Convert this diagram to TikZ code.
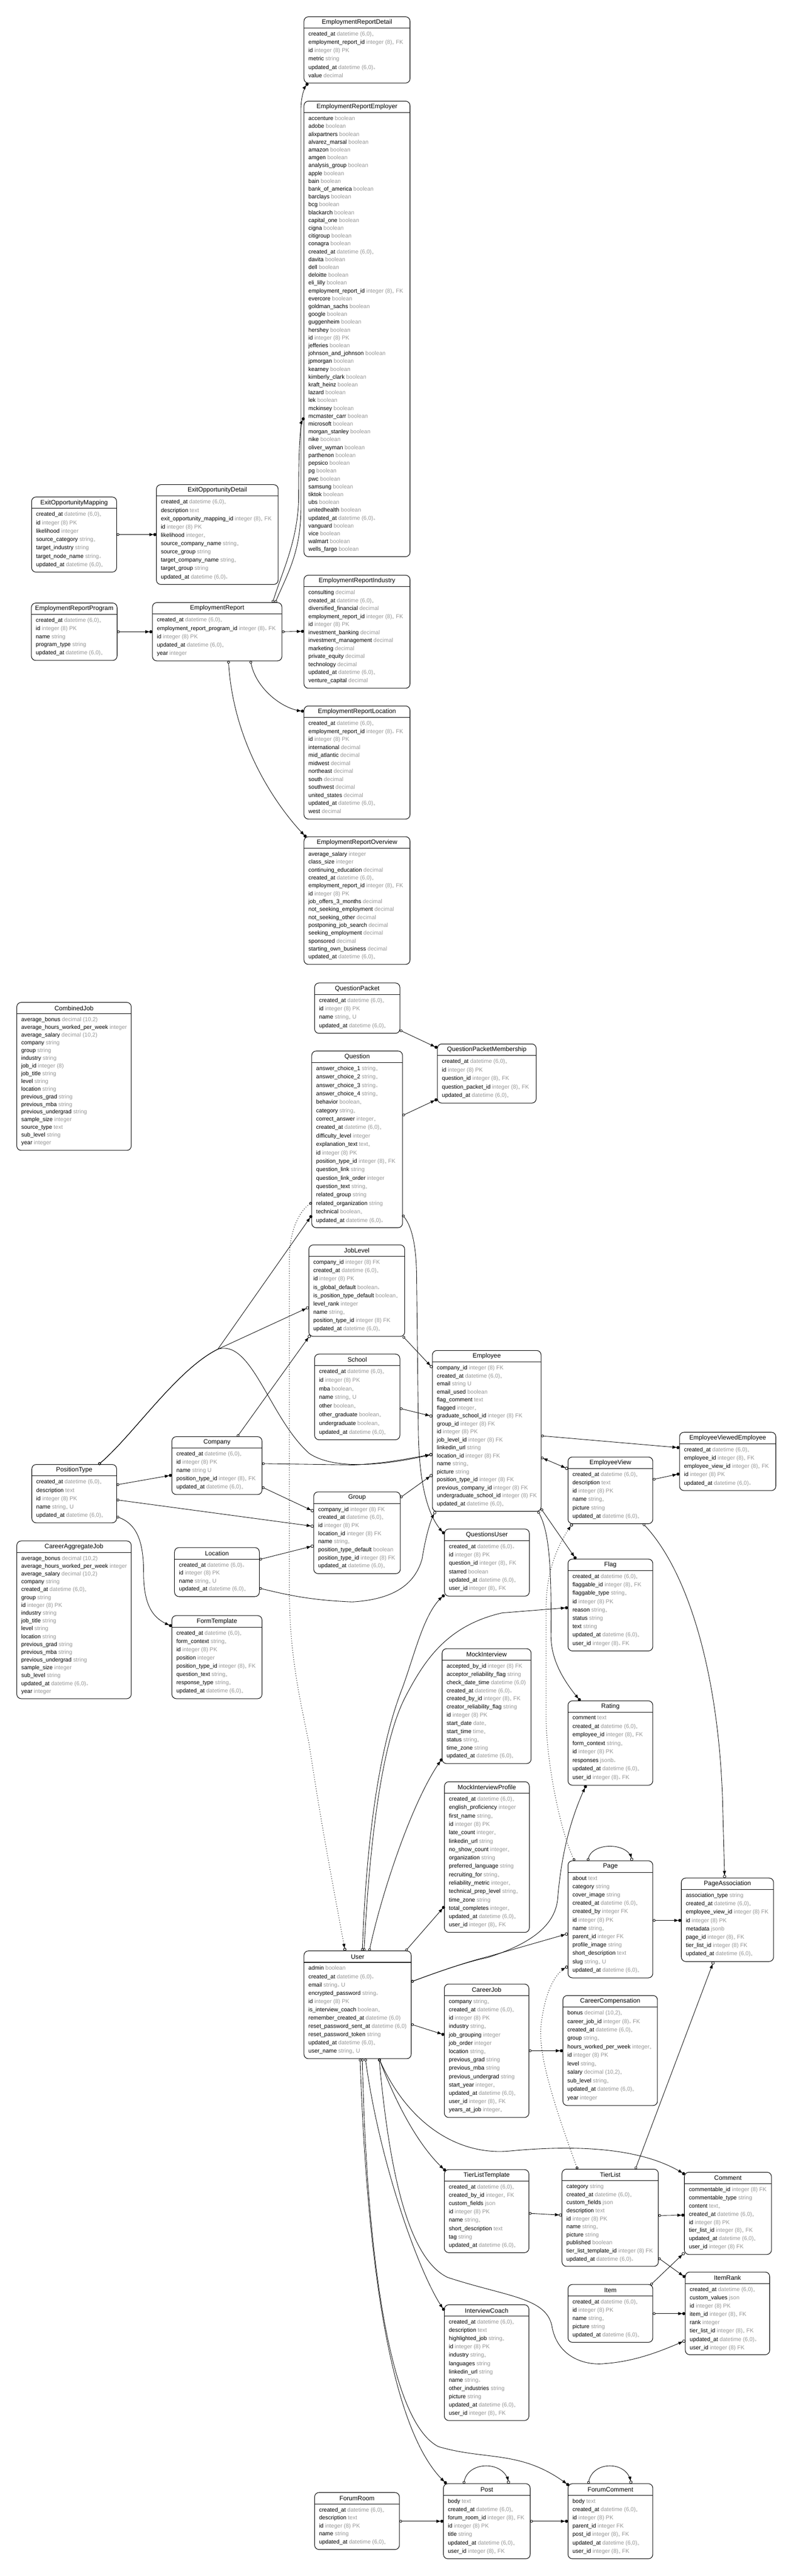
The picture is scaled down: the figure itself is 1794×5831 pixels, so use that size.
\documentclass[tikz,border=0pt]{standalone}
\usepackage{fontspec}
\setmainfont{Liberation Sans}
\usetikzlibrary{calc,arrows.meta}
\definecolor{tgc}{RGB}{150,150,150}
\catcode`\_=12
\newcommand\tgr[1]{\textcolor{tgc}{#1}}
\newcommand\St{\raisebox{-2.2pt}{\fontsize{10}{10}\selectfont$\ast$}}
\newcommand\xCA{created_at \tgr{datetime (6,0)\St}}
\newcommand\xUA{updated_at \tgr{datetime (6,0)\St}}
\newcommand\xID{id \tgr{integer (8) PK}}
\newcommand\fB[1]{#1 \tgr{boolean}}
\newcommand\fBs[1]{#1 \tgr{boolean\St}}
\newcommand\fD[1]{#1 \tgr{decimal}}
\newcommand\fS[1]{#1 \tgr{string}}
\newcommand\fSs[1]{#1 \tgr{string\St}}
\newcommand\fK[1]{#1 \tgr{integer (8)\St{} FK}}
\newcommand\fKo[1]{#1 \tgr{integer (8) FK}}
\newcommand\fI[1]{#1 \tgr{integer}}
\newcommand\fIs[1]{#1 \tgr{integer\St}}
\newcommand\fT[1]{#1 \tgr{text}}
\tikzset{
  ebox/.style={draw, line width=1.2pt, rounded corners=10pt, inner sep=0pt, outer sep=0pt, fill=white},
  etitle/.style={font=\fontsize{14.3}{16}\selectfont, inner sep=0pt},
  erows/.style={align=left, inner sep=0pt},
  erel/.style={line width=1pt},
  ereq/.style={erel, {Circle[open,length=6pt]}-{Triangle[length=9pt,width=7pt]Circle[length=7pt]}},
  eopt/.style={erel, {Circle[open,length=6pt]}-{Triangle[length=9pt,width=7pt]Circle[open,length=7pt]}},
  eind/.style={eopt, line width=1.3pt, dash pattern=on 1.3pt off 4pt},
  ebidir/.style={erel, {Circle[open,length=6pt]Triangle[length=9pt,width=7pt]}-{Triangle[length=9pt,width=7pt]Circle[open,length=7pt]}},
}
% name, left, top, width, bottom, rowskip, title, rows
\newcommand\ent[8]{%
  \node[ebox, minimum width=#4pt, minimum height={(#5-#3)*1pt}, anchor=north west] (#1) at (#2,#3) {};
  \node[etitle] (#1t) at ($(#1.north)+(0,13)$) {#7};
  \draw[line width=1.2pt] ($(#1.north west)+(0,26)$) -- ($(#1.north east)+(0,26)$);
  \node[erows, anchor=north west, font={\fontsize{12.8}{#6}\selectfont}] (#1r) at ($(#1.north west)+(10,34)$) {#8};
}
\begin{document}
\begin{tikzpicture}[x=1pt,y=-1pt]
\fill[white] (0,0) rectangle (1794,5831);
\useasboundingbox (0,0) rectangle (1794,5831);

\ent{ERDetail}{688}{38}{240}{188}{18.7}{EmploymentReportDetail}{\xCA\\\fK{employment_report_id}\\\xID\\\fS{metric}\\\xUA\\\fD{value}}

\ent{Employer}{688}{229}{240}{1260}{17.73}{EmploymentReportEmployer}{\fB{accenture}\\\fB{adobe}\\\fB{alixpartners}\\\fB{alvarez_marsal}\\\fB{amazon}\\\fB{amgen}\\\fB{analysis_group}\\\fB{apple}\\\fB{bain}\\\fB{bank_of_america}\\\fB{barclays}\\\fB{bcg}\\\fB{blackarch}\\\fB{capital_one}\\\fB{cigna}\\\fB{citigroup}\\\fB{conagra}\\\xCA\\\fB{davita}\\\fB{dell}\\\fB{deloitte}\\\fB{eli_lilly}\\\fK{employment_report_id}\\\fB{evercore}\\\fB{goldman_sachs}\\\fB{google}\\\fB{guggenheim}\\\fB{hershey}\\\xID\\\fB{jefferies}\\\fB{johnson_and_johnson}\\\fB{jpmorgan}\\\fB{kearney}\\\fB{kimberly_clark}\\\fB{kraft_heinz}\\\fB{lazard}\\\fB{lek}\\\fB{mckinsey}\\\fB{mcmaster_carr}\\\fB{microsoft}\\\fB{morgan_stanley}\\\fB{nike}\\\fB{oliver_wyman}\\\fB{parthenon}\\\fB{pepsico}\\\fB{pg}\\\fB{pwc}\\\fB{samsung}\\\fB{tiktok}\\\fB{ubs}\\\fB{unitedhealth}\\\xUA\\\fB{vanguard}\\\fB{vice}\\\fB{walmart}\\\fB{wells_fargo}}

\ent{ERIndustry}{688}{1302}{240}{1558}{18.1}{EmploymentReportIndustry}{\fD{consulting}\\\xCA\\\fD{diversified_financial}\\\fK{employment_report_id}\\\xID\\\fD{investment_banking}\\\fD{investment_management}\\\fD{marketing}\\\fD{private_equity}\\\fD{technology}\\\xUA\\\fD{venture_capital}}

\ent{ERLocation}{688}{1598}{240}{1854}{18.1}{EmploymentReportLocation}{\xCA\\\fK{employment_report_id}\\\xID\\\fD{international}\\\fD{mid_atlantic}\\\fD{midwest}\\\fD{northeast}\\\fD{south}\\\fD{southwest}\\\fD{united_states}\\\xUA\\\fD{west}}

\ent{EROverview}{688}{1894}{240}{2183}{17.9}{EmploymentReportOverview}{\fI{average_salary}\\\fI{class_size}\\\fD{continuing_education}\\\xCA\\\fK{employment_report_id}\\\xID\\\fD{job_offers_3_months}\\\fD{not_seeking_employment}\\\fD{not_seeking_other}\\\fD{postponing_job_search}\\\fD{seeking_employment}\\\fD{sponsored}\\\fD{starting_own_business}\\\xUA}

\ent{EOM}{71.5}{1125}{192.5}{1295}{18.9}{ExitOpportunityMapping}{\xCA\\\xID\\\fI{likelihood}\\\fSs{source_category}\\\fS{target_industry}\\\fSs{target_node_name}\\\xUA}

\ent{EOD}{354}{1097}{275.5}{1323}{18.8}{ExitOpportunityDetail}{\xCA\\\fT{description}\\\fK{exit_opportunity_mapping_id}\\\xID\\\fIs{likelihood}\\\fSs{source_company_name}\\\fS{source_group}\\\fSs{target_company_name}\\\fS{target_group}\\\xUA}

\ent{ERP}{71}{1365}{194}{1495}{18.35}{EmploymentReportProgram}{\xCA\\\xID\\\fS{name}\\\fS{program_type}\\\xUA}

\ent{ER}{345}{1364}{293}{1496}{18.85}{EmploymentReport}{\xCA\\\fK{employment_report_program_id}\\\xID\\\xUA\\\fI{year}}

\ent{CJob}{38}{2269}{259}{2604}{17.4}{CombinedJob}{average_bonus \tgr{decimal (10,2)}\\\fI{average_hours_worked_per_week}\\average_salary \tgr{decimal (10,2)}\\\fS{company}\\\fS{group}\\\fS{industry}\\job_id \tgr{integer (8)}\\\fS{job_title}\\\fS{level}\\\fS{location}\\\fS{previous_grad}\\\fS{previous_mba}\\\fS{previous_undergrad}\\\fI{sample_size}\\\fT{source_type}\\\fS{sub_level}\\\fI{year}}

\ent{CAJ}{38}{3488}{259}{3845}{17.7}{CareerAggregateJob}{average_bonus \tgr{decimal (10,2)}\\\fI{average_hours_worked_per_week}\\average_salary \tgr{decimal (10,2)}\\\fS{company}\\\xCA\\\fS{group}\\\xID\\\fS{industry}\\\fS{job_title}\\\fS{level}\\\fS{location}\\\fS{previous_grad}\\\fS{previous_mba}\\\fS{previous_undergrad}\\\fI{sample_size}\\\fS{sub_level}\\\xUA\\\fI{year}}

\ent{PT}{72}{3315}{192}{3447}{18.85}{PositionType}{\xCA\\\fT{description}\\\xID\\name \tgr{string\St{} U}\\\xUA}

\ent{Co}{389}{3252}{204}{3383}{18.6}{Company}{\xCA\\\xID\\name \tgr{string U}\\\fK{position_type_id}\\\xUA}

\ent{Loc}{395}{3503}{192}{3614}{18.1}{Location}{\xCA\\\xID\\name \tgr{string\St{} U}\\\xUA}

\ent{FT}{389}{3657}{204}{3845}{18.8}{FormTemplate}{\xCA\\\fSs{form_context}\\\xID\\\fI{position}\\\fK{position_type_id}\\\fSs{question_text}\\\fSs{response_type}\\\xUA}

\ent{QP}{712}{2225}{193}{2339}{19.1}{QuestionPacket}{\xCA\\\xID\\name \tgr{string\St{} U}\\\xUA}

\ent{QPM}{990}{2363}{223.5}{2497}{19.35}{QuestionPacketMembership}{\xCA\\\xID\\\fK{question_id}\\\fK{question_packet_id}\\\xUA}

\ent{Question}{705.5}{2379}{205.5}{2779}{19.1}{Question}{\fSs{answer_choice_1}\\\fSs{answer_choice_2}\\\fSs{answer_choice_3}\\\fSs{answer_choice_4}\\\fBs{behavior}\\\fSs{category}\\\fIs{correct_answer}\\\xCA\\\fI{difficulty_level}\\explanation_text \tgr{text\St}\\\xID\\\fK{position_type_id}\\\fS{question_link}\\\fI{question_link_order}\\\fSs{question_text}\\\fS{related_group}\\\fS{related_organization}\\\fBs{technical}\\\xUA}

\ent{JL}{699}{2818}{217}{3025}{18.8}{JobLevel}{\fKo{company_id}\\\xCA\\\xID\\\fBs{is_global_default}\\\fBs{is_position_type_default}\\\fI{level_rank}\\\fSs{name}\\\fKo{position_type_id}\\\xUA}

\ent{Sch}{712}{3065}{193}{3259}{19.6}{School}{\xCA\\\xID\\\fBs{mba}\\name \tgr{string\St{} U}\\\fBs{other}\\\fBs{other_graduate}\\\fBs{undergraduate}\\\xUA}

\ent{Emp}{978.6}{3057}{246}{3421}{18.1}{Employee}{\fKo{company_id}\\\xCA\\email \tgr{string U}\\\fB{email_used}\\\fT{flag_comment}\\\fIs{flagged}\\\fKo{graduate_school_id}\\\fKo{group_id}\\\xID\\\fKo{job_level_id}\\\fS{linkedin_url}\\\fKo{location_id}\\\fSs{name}\\\fS{picture}\\\fKo{position_type_id}\\\fKo{previous_company_id}\\\fKo{undergraduate_school_id}\\\xUA}

\ent{Grp}{710}{3377}{196}{3562}{18.3}{Group}{\fKo{company_id}\\\xCA\\\xID\\\fKo{location_id}\\\fSs{name}\\\fB{position_type_default}\\\fKo{position_type_id}\\\xUA}

\ent{QU}{1006}{3461}{192}{3613}{19.1}{QuestionsUser}{\xCA\\\xID\\\fK{question_id}\\\fB{starred}\\\xUA\\\fK{user_id}}

\ent{MI}{1000.6}{3732}{201.4}{3992}{18.5}{MockInterview}{\fKo{accepted_by_id}\\\fS{acceptor_reliability_flag}\\check_date_time \tgr{datetime (6,0)}\\\xCA\\\fK{created_by_id}\\\fS{creator_reliability_flag}\\\xID\\start_date \tgr{date\St}\\start_time \tgr{time\St}\\\fSs{status}\\\fS{time_zone}\\\xUA}

\ent{MIP}{1006}{4033}{192}{4374}{19.0}{MockInterviewProfile}{\xCA\\\fI{english_proficiency}\\\fSs{first_name}\\\xID\\\fIs{late_count}\\\fS{linkedin_url}\\\fIs{no_show_count}\\\fS{organization}\\\fS{preferred_language}\\\fSs{recruiting_for}\\\fIs{reliability_metric}\\\fSs{technical_prep_level}\\\fS{time_zone}\\\fIs{total_completes}\\\xUA\\\fK{user_id}}

\ent{User}{688}{4416}{242.6}{4660}{18.7}{User}{\fB{admin}\\\xCA\\email \tgr{string\St{} U}\\\fSs{encrypted_password}\\\xID\\\fBs{is_interview_coach}\\remember_created_at \tgr{datetime (6,0)}\\reset_password_sent_at \tgr{datetime (6,0)}\\\fS{reset_password_token}\\\xUA\\user_name \tgr{string\St{} U}}

\ent{EV}{1285.5}{3298}{192}{3449}{18.9}{EmployeeView}{\xCA\\\fT{description}\\\xID\\\fSs{name}\\\fS{picture}\\\xUA}

\ent{EVE}{1538}{3242}{218}{3374}{18.9}{EmployeeViewedEmployee}{\xCA\\\fK{employee_id}\\\fK{employee_view_id}\\\xID\\\xUA}

\ent{Flag}{1285.5}{3529}{192}{3737}{18.9}{Flag}{\xCA\\\fK{flaggable_id}\\\fSs{flaggable_type}\\\xID\\\fSs{reason}\\\fS{status}\\\fS{text}\\\xUA\\\fK{user_id}}

\ent{Rat}{1285.5}{3850}{192}{4041}{19.2}{Rating}{\fT{comment}\\\xCA\\\fK{employee_id}\\\fSs{form_context}\\\xID\\responses \tgr{jsonb\St}\\\xUA\\\fK{user_id}}

\ent{Page}{1285.5}{4212}{192}{4477}{18.9}{Page}{\fT{about}\\\fS{category}\\\fS{cover_image}\\\xCA\\created_by \tgr{integer FK}\\\xID\\\fSs{name}\\parent_id \tgr{integer FK}\\\fS{profile_image}\\\fT{short_description}\\slug \tgr{string\St{} U}\\\xUA}

\ent{PA}{1542}{4251}{208.7}{4440}{18.9}{PageAssociation}{\fS{association_type}\\\xCA\\\fKo{employee_view_id}\\\xID\\metadata \tgr{jsonb}\\\fK{page_id}\\\fKo{tier_list_id}\\\xUA}

\ent{CJ}{1005.7}{4491}{191.3}{4793}{18.9}{CareerJob}{\fSs{company}\\\xCA\\\xID\\\fSs{industry}\\\fI{job_grouping}\\\fI{job_order}\\\fSs{location}\\\fS{previous_grad}\\\fS{previous_mba}\\\fS{previous_undergrad}\\\fIs{start_year}\\\xUA\\\fK{user_id}\\\fIs{years_at_job}}

\ent{CC}{1274}{4517}{214}{4766}{19.2}{CareerCompensation}{bonus \tgr{decimal (10,2)\St}\\\fK{career_job_id}\\\xCA\\\fSs{group}\\\fIs{hours_worked_per_week}\\\xID\\\fSs{level}\\salary \tgr{decimal (10,2)\St}\\\fSs{sub_level}\\\xUA\\\fI{year}}

\ent{TLT}{1005.7}{4911}{191.3}{5099}{18.8}{TierListTemplate}{\xCA\\created_by_id \tgr{integer\St{} FK}\\custom_fields \tgr{json}\\\xID\\\fSs{name}\\\fT{short_description}\\\fS{tag}\\\xUA}

\ent{TL}{1272}{4910}{218}{5130}{18.2}{TierList}{\fS{category}\\\xCA\\custom_fields \tgr{json}\\\fT{description}\\\xID\\\fSs{name}\\\fS{picture}\\\fB{published}\\\fKo{tier_list_template_id}\\\xUA}

\ent{Com}{1549}{4917}{197}{5103}{18.5}{Comment}{\fKo{commentable_id}\\\fS{commentable_type}\\content \tgr{text\St}\\\xCA\\\xID\\\fK{tier_list_id}\\\xUA\\\fKo{user_id}}

\ent{IR}{1551}{5143}{191}{5330}{18.8}{ItemRank}{\xCA\\custom_values \tgr{json}\\\xID\\\fK{item_id}\\\fI{rank}\\\fK{tier_list_id}\\\xUA\\\fKo{user_id}}

\ent{Item}{1285.5}{5171}{192}{5302}{18.6}{Item}{\xCA\\\xID\\\fSs{name}\\\fS{picture}\\\xUA}

\ent{IC}{1005.7}{5217}{191.3}{5479}{18.7}{InterviewCoach}{\xCA\\\fT{description}\\\fSs{highlighted_job}\\\xID\\\fSs{industry}\\\fS{languages}\\\fS{linkedin_url}\\\fSs{name}\\\fS{other_industries}\\\fS{picture}\\\xUA\\\fK{user_id}}

\ent{FR}{712}{5642}{192}{5771}{18.1}{ForumRoom}{\xCA\\\fT{description}\\\xID\\\fS{name}\\\xUA}

\ent{Post}{1003.6}{5622}{196.4}{5792}{18.9}{Post}{\fT{body}\\\xCA\\\fK{forum_room_id}\\\xID\\\fS{title}\\\xUA\\\fK{user_id}}

\ent{FC}{1285.5}{5622}{192}{5792}{18.9}{ForumComment}{\fT{body}\\\xCA\\\xID\\parent_id \tgr{integer FK}\\\fK{post_id}\\\xUA\\\fK{user_id}}

% ---------- connectors ----------
\draw[ereq] ($(ER.north west)+(278,0)$) .. controls (650,1300) and (681,1250) .. (681,1150) -- (681,250) .. controls (681,220) and (688,200) .. ($(ERDetail.south west)+(9,0)$);
\draw[ereq] ($(ER.north west)+(272,0)$) .. controls (640,1290) and (676,1220) .. (676,1120) .. controls (676,1000) and (680,960) .. ($(Employer.north west)+(0,716)$);
\draw[ereq] ($(ER.north east)+(0,66)$) -- ($(ERIndustry.north west)+(0,127)$);
\draw[ereq] ($(ER.south west)+(222,0)$) .. controls (580,1560) and (640,1605) .. ($(ERLocation.north west)+(0,12)$);
\draw[ereq] ($(ER.south west)+(172,0)$) .. controls (530,1700) and (640,1840) .. ($(EROverview.north west)+(5,1)$);
\draw[ereq] ($(EOM.north east)+(0,85)$) -- ($(EOD.north west)+(0,113)$);
\draw[ereq] ($(ERP.north east)+(0,65)$) -- ($(ER.north west)+(0,66)$);

\draw[ereq] ($(QP.north east)+(0,107)$) -- ($(QPM.north west)+(0,9)$);
\draw[ereq] ($(Question.north east)+(0,146)$) -- ($(QPM.north west)+(0,125)$);
\draw[ereq] ($(Question.north east)+(0,371)$) .. controls (935,2780) and (943,2830) .. (943,2900) -- (947,3250) .. controls (950,3380) and (975,3440) .. ($(QU.north west)+(0,11)$);

\draw[ereq] ($(PT.north west)+(151,0)$) .. controls (300,3250) and (400,3100) .. (493,3054) -- ($(Question.north west)+(0,372)$);
\draw[eopt] ($(PT.north west)+(151,0)$) .. controls (300,3250) and (400,3100) .. (493,3054) -- ($(JL.north west)+(0,141)$);
\draw[eopt] ($(PT.north west)+(151,0)$) .. controls (300,3250) and (400,3100) .. (493,3054) .. controls (570,3030) and (610,3210) .. (700,3290) .. controls (760,3330) and (880,3315) .. ($(Emp.north west)+(0,235)$);
\draw[ereq] ($(PT.north east)+(0,46)$) -- ($(Co.north west)+(0,87)$);
\draw[ereq] ($(PT.north east)+(0,118)$) .. controls (310,3450) and (325,3490) .. (325,3560) .. controls (325,3640) and (350,3665) .. ($(FT.north west)+(0,24)$);
\draw[eopt] ($(PT.north east)+(0,80)$) -- ($(Grp.north west)+(0,78)$);

\draw[eopt] ($(Co.north east)+(0,61)$) -- (800,3316) .. controls (880,3312) and (930,3300) .. ($(Emp.north west)+(0,235)$);
\draw[eopt] ($(Co.north west)+(148,0)$) -- ($(JL.south west)+(3,-3)$);
\draw[eopt] ($(Co.north east)+(0,114)$) -- ($(Grp.north west)+(0,44)$);
\draw[eopt] ($(Loc.north east)+(0,27)$) -- ($(Grp.north west)+(0,122)$);
\draw[eopt] ($(Loc.north east)+(0,92)$) .. controls (650,3610) and (700,3622) .. (797,3626) .. controls (900,3620) and (940,3580) .. (955,3530) .. controls (965,3470) and (975,3440) .. ($(Emp.south west)+(7,0)$);
\draw[eopt] ($(Grp.north east)+(0,13)$) -- ($(Emp.north west)+(0,281)$);
\draw[eopt] ($(JL.south east)+(-4,0)$) -- ($(Emp.north west)+(0,39)$);
\draw[eopt] ($(Sch.north east)+(0,123)$) -- ($(Emp.north west)+(0,149)$);

\draw[ereq] ($(Emp.north east)+(0,193)$) -- ($(EVE.north west)+(0,35)$);
\draw[ereq] ($(EV.north east)+(0,51)$) -- ($(EVE.north west)+(0,94)$);
\draw[ebidir] ($(Emp.north east)+(0,242)$) -- ($(EV.north west)+(0,27)$);
\draw[ereq] ($(Emp.south east)+(0,-6)$) -- ($(Flag.north west)+(18,0)$);
\draw[ereq] ($(Emp.south east)+(-7,0)$) .. controls (1245,3470) and (1248,3560) .. (1247,3700) .. controls (1246,3760) and (1280,3810) .. ($(Rat.north west)+(28,0)$);

\draw[ereq] ($(User.north west)+(136,0)$) .. controls (835,4200) and (860,3950) .. (918,3840) .. controls (960,3760) and (1010,3680) .. (1136,3651) -- ($(Flag.north west)+(0,110)$);
\draw[ereq] ($(User.north west)+(132,0)$) .. controls (830,4150) and (860,3950) .. (911,3820) .. controls (940,3740) and (960,3650) .. ($(QU.south west)+(0,-3)$);
\draw[ereq] ($(User.north west)+(148,0)$) .. controls (860,4300) and (930,4080) .. ($(MI.south west)+(0,-11)$);
\draw[ereq] ($(User.north west)+(230,0)$) -- ($(MIP.north west)+(0,282)$);
\draw[eind] ($(Question.north west)+(0,343)$) .. controls (680,2740) and (655,2780) .. (655,2850) -- (655,3600) .. controls (655,3750) and (680,3850) .. (700,3950) .. controls (730,4150) and (760,4300) .. ($(User.north west)+(93,0)$);

\draw[eind] ($(Page.north west)+(15,0)$) .. controls (1270,4150) and (1238,4000) .. (1236,3893) -- (1236,3640) .. controls (1236,3560) and (1260,3500) .. ($(EV.south west)+(10,0)$);
\draw[eopt] ($(Page.north west)+(45,0)$) .. controls (1340,4170) and (1420,4170) .. ($(Page.north west)+(145,0)$);
\draw[ereq] ($(Page.north east)+(0,135)$) -- ($(PA.north west)+(0,96)$);
\draw[eopt] ($(EV.south east)+(-22,0)$) .. controls (1560,3560) and (1630,3800) .. (1636,4100) -- ($(PA.north west)+(98,0)$);
\draw[eopt] ($(User.north east)+(0,70)$) .. controls (1000,4460) and (1060,4440) .. (1104,4429) -- ($(Page.north west)+(0,165)$);
\draw[ereq] ($(User.north east)+(0,70)$) .. controls (1000,4460) and (1060,4440) .. (1104,4431) .. controls (1200,4400) and (1255,4360) .. (1262,4300) .. controls (1270,4200) and (1290,4120) .. ($(Rat.south west)+(41,0)$);
\draw[ereq] ($(User.north east)+(0,166)$) -- ($(CJ.north west)+(0,115)$);
\draw[ereq] ($(CJ.north east)+(0,151)$) -- ($(CC.north west)+(0,125)$);

\draw[ereq] ($(User.south west)+(170,0)$) .. controls (900,4770) and (950,4860) .. ($(TLT.north west)+(3,3)$);
\draw[ereq] ($(User.south west)+(170,0)$) .. controls (920,4800) and (1030,4880) .. (1153,4869) .. controls (1300,4855) and (1450,4860) .. ($(Com.north west)+(1,5)$);
\draw[ereq] ($(User.south west)+(139,0)$) .. controls (860,4900) and (950,5150) .. ($(IC.north west)+(0,13)$);
\draw[eopt] ($(User.south west)+(170,0)$) .. controls (880,4900) and (920,5110) .. (1013,5155) .. controls (1150,5200) and (1240,5200) .. (1250,5270) .. controls (1265,5340) and (1330,5355) .. (1370,5350) .. controls (1440,5345) and (1500,5320) .. ($(IR.north west)+(0,155)$);
\draw[ereq] ($(User.south west)+(127,0)$) .. controls (830,5100) and (880,5500) .. ($(Post.north west)+(7,0)$);
\draw[ereq] ($(User.south west)+(132,0)$) .. controls (830,5100) and (880,5480) .. (992,5538) .. controls (1100,5570) and (1180,5545) .. ($(FC.north west)+(2,4)$);

\draw[eopt] ($(TLT.north east)+(0,99)$) -- ($(TL.north west)+(0,104)$);
\draw[ereq] ($(TL.north east)+(0,105)$) -- ($(Com.north west)+(0,97)$);
\draw[ereq] ($(TL.north east)+(0,201)$) -- ($(IR.north west)+(0,12)$);
\draw[eopt] ($(Item.north east)+(-5,1)$) -- ($(Com.south west)+(0,-4)$);
\draw[ereq] ($(Item.north east)+(0,66)$) -- ($(IR.north west)+(0,94)$);
\draw[eopt] ($(TL.north west)+(166,0)$) -- ($(PA.south west)+(73,0)$);
\draw[eind] ($(TL.north west)+(35,0)$) .. controls (1260,4780) and (1215,4650) .. (1225,4580) .. controls (1235,4500) and (1260,4465) .. ($(Page.south west)+(0,-26)$);

\draw[ereq] ($(FR.north east)+(0,65)$) -- ($(Post.north west)+(0,85)$);
\draw[ereq] ($(Post.north east)+(0,85)$) -- ($(FC.north west)+(0,85)$);
\draw[eopt] ($(Post.north west)+(46,0)$) .. controls (1060,5570) and (1140,5570) .. ($(Post.north west)+(148,0)$);
\draw[eopt] ($(FC.north west)+(46,0)$) .. controls (1342,5570) and (1418,5570) .. ($(FC.north west)+(143,0)$);
\end{tikzpicture}
\end{document}
